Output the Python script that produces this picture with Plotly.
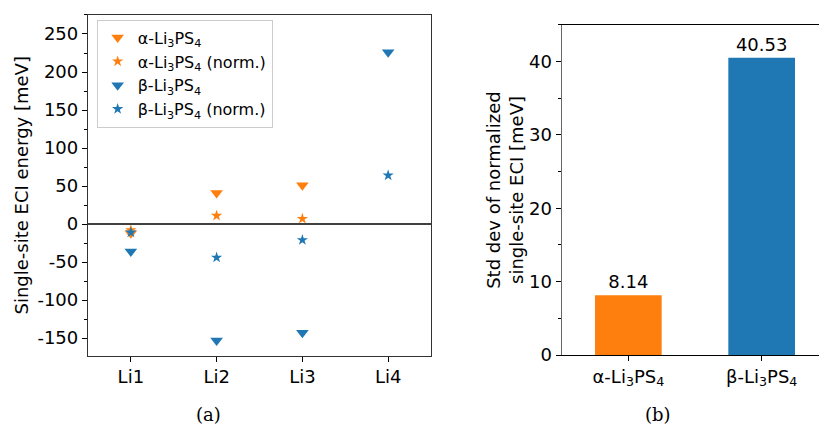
import plotly.graph_objects as go

# Single-site ECI energies per Li site [meV]
sites = ["Li1", "Li2", "Li3", "Li4"]
alpha_sites = ["Li1", "Li2", "Li3"]
alpha_eci = [-12, 41, 51]
alpha_eci_norm = [-8, 11, 7]
beta_eci = [-36, -153, -143, 226]
beta_eci_norm = [-11, -44, -21, 64]

# Std dev of normalized single-site ECI [meV]
phases = ["α-Li<sub>3</sub>PS<sub>4</sub>", "β-Li<sub>3</sub>PS<sub>4</sub>"]
std_dev = [8.14, 40.53]

ORANGE = "#ff7f0e"
BLUE = "#1f77b4"
FONT = "DejaVu Sans"
SERIF = "DejaVu Serif"
FS = 18

fig = go.Figure()

fig.add_trace(go.Scatter(
    x=alpha_sites, y=alpha_eci, mode="markers",
    marker=dict(symbol="triangle-down", size=11, color=ORANGE),
    name="α-Li<sub>3</sub>PS<sub>4</sub>", xaxis="x", yaxis="y"))
fig.add_trace(go.Scatter(
    x=alpha_sites, y=alpha_eci_norm, mode="markers",
    marker=dict(symbol="star", size=8.5, color=ORANGE),
    name="α-Li<sub>3</sub>PS<sub>4</sub> (norm.)", xaxis="x", yaxis="y"))
fig.add_trace(go.Scatter(
    x=sites, y=beta_eci, mode="markers",
    marker=dict(symbol="triangle-down", size=11, color=BLUE),
    name="β-Li<sub>3</sub>PS<sub>4</sub>", xaxis="x", yaxis="y"))
fig.add_trace(go.Scatter(
    x=sites, y=beta_eci_norm, mode="markers",
    marker=dict(symbol="star", size=8.5, color=BLUE),
    name="β-Li<sub>3</sub>PS<sub>4</sub> (norm.)", xaxis="x", yaxis="y"))

fig.add_trace(go.Bar(
    x=phases, y=std_dev, marker=dict(color=[ORANGE, BLUE], line=dict(width=0)),
    width=0.5, text=[f"{v:.2f}" for v in std_dev], textposition="outside",
    textfont=dict(family=FONT, size=FS, color="black"), cliponaxis=False,
    showlegend=False, xaxis="x2", yaxis="y2"))

# zero reference line in panel (a)
fig.add_shape(type="line", xref="x domain", yref="y", x0=0, x1=1, y0=0, y1=0,
              line=dict(color="black", width=1.6))

axis_common = dict(showgrid=False, zeroline=False, ticks="outside", automargin=False,
                   tickfont=dict(family=FONT, size=FS, color="black"),
                   tickcolor="black", ticklen=5, showline=True)

fig.update_layout(
    width=819, height=427,
    margin=dict(l=0, r=0, t=0, b=0),
    paper_bgcolor="white", plot_bgcolor="white",
    font=dict(family=FONT, size=FS, color="black"),
    xaxis=dict(axis_common, domain=[0.1074, 0.5263], range=[-0.5, 3.5],
               type="category", categoryorder="array", categoryarray=sites,
               linecolor="#333", linewidth=1.2, mirror=True, ticklen=5),
    yaxis=dict(axis_common, domain=[0.1672, 0.9649], range=[-173, 275],
               tickvals=[-150, -100, -50, 0, 50, 100, 150, 200, 250],
               ticktext=["-150", "-100", "-50", "0", "50", "100", "150", "200", "250"],
               linecolor="#333", linewidth=1.2, mirror=True,
               minor=dict(dtick=25, tick0=0, ticks="outside", ticklen=3, tickcolor="black"),
               title=dict(text="Single-site ECI energy [meV]", standoff=4,
                          font=dict(family=FONT, size=FS))),
    xaxis2=dict(axis_common, domain=[0.6858, 1.0], range=[-0.5, 1.43],
                type="category", linecolor="black", linewidth=1.2, mirror=True,
                anchor="y2"),
    yaxis2=dict(axis_common, domain=[0.1686, 0.9415], range=[0, 45],
                tickvals=[0, 10, 20, 30, 40], linecolor="#666", linewidth=1.2,
                mirror=False, anchor="x2",
                minor=dict(dtick=5, tick0=0, ticks="outside", ticklen=3, tickcolor="black"),
                title=dict(text="Std dev of normalized<br>single-site ECI [meV]",
                           standoff=0, font=dict(family=FONT, size=FS))),
    legend=dict(x=0.118, y=0.954, xanchor="left", yanchor="top",
                bgcolor="rgba(255,255,255,0.8)", bordercolor="#cccccc", borderwidth=1,
                font=dict(family=FONT, size=16), itemsizing="trace",
                tracegroupgap=0),
    bargap=0.5,
)

fig.add_annotation(text="(a)", x=209 / 819, y=(427 - 414) / 427, xref="paper", yref="paper",
                   xanchor="center", yanchor="middle",
                   showarrow=False, font=dict(family=SERIF, size=FS, color="black"))
fig.add_annotation(text="(b)", x=658 / 819, y=(427 - 414) / 427, xref="paper", yref="paper",
                   xanchor="center", yanchor="middle",
                   showarrow=False, font=dict(family=SERIF, size=FS, color="black"))

fig.write_html("out.html")
